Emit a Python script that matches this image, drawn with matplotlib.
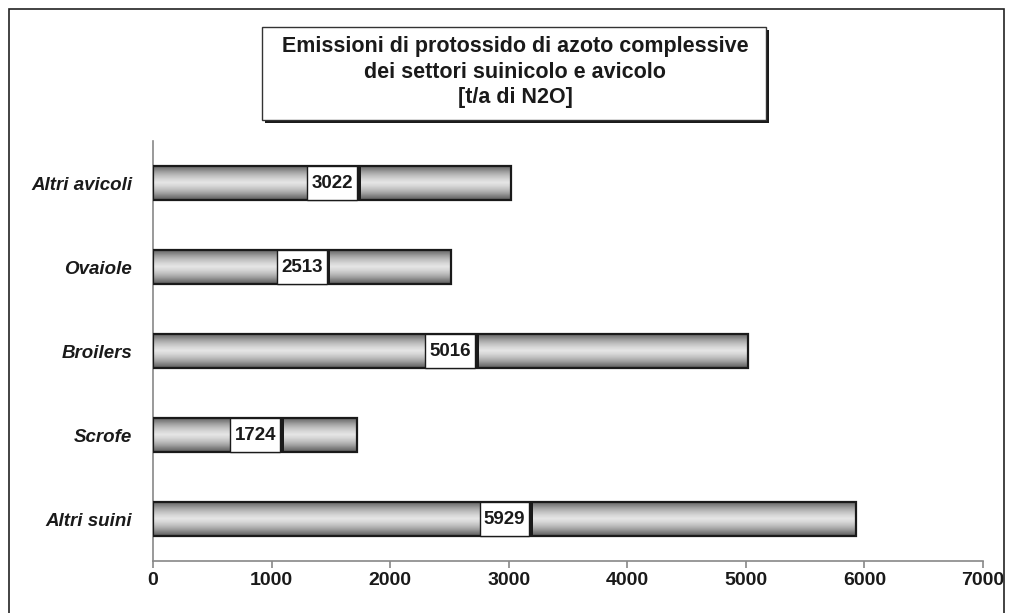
import numpy as np
import matplotlib
matplotlib.use("Agg")
import matplotlib.pyplot as plt
from matplotlib.patches import Rectangle

categories = ["Altri suini", "Scrofe", "Broilers", "Ovaiole", "Altri avicoli"]
values = [5929, 1724, 5016, 2513, 3022]
xticks = [0, 1000, 2000, 3000, 4000, 5000, 6000, 7000]
title = "Emissioni di protossido di azoto complessive\ndei settori suinicolo e avicolo\n[t/a di N2O]"

plt.rcParams['font.family'] = ['Liberation Sans', 'DejaVu Sans']

W, H = 1011, 613
fig = plt.figure(figsize=(W / 100.0, H / 100.0), dpi=100)

def px(x0, y0, w, h):
    # pixel box (top-left origin) -> figure fraction
    return (x0 / W, 1 - (y0 + h) / H, w / W, h / H)

# outer frame of the chart area
fig.patches.append(Rectangle((9 / W, -0.05), (1004 - 9) / W, 1 - 9 / H + 0.05,
                             transform=fig.transFigure, fill=False,
                             edgecolor='#222222', lw=1.2))

ax = fig.add_axes(px(153, 141, 830, 420))

# vertical gradient to mimic the cylinder-like shading
g = np.array([0.35, 0.50, 0.64, 0.75, 0.84, 0.90, 0.84, 0.75, 0.64, 0.50, 0.35])
grad = np.interp(np.linspace(0, len(g) - 1, 60), np.arange(len(g)), g).reshape(-1, 1)

bh = 0.41
for i, v in enumerate(values):
    rect = Rectangle((0, i - bh / 2), v, bh, facecolor='none',
                     edgecolor='#1a1a1a', lw=1.6, zorder=3)
    ax.add_patch(rect)
    im = ax.imshow(grad, cmap='gray', vmin=0, vmax=1, aspect='auto',
                   extent=(0, v, i - bh / 2, i + bh / 2), zorder=2,
                   interpolation='bilinear')
    im.set_clip_path(rect)
    # value label box in the middle of the bar
    bw = 420
    ax.add_patch(Rectangle((v / 2 - bw / 2 + 30, i - bh / 2), bw, bh,
                           facecolor='#1a1a1a', edgecolor='none', zorder=4))
    ax.add_patch(Rectangle((v / 2 - bw / 2, i - bh / 2), bw, bh,
                           facecolor='white', edgecolor='#1a1a1a', lw=1.0, zorder=5))
    ax.text(v / 2, i, str(v), ha='center', va='center', fontsize=13.5,
            fontweight='bold', color='#1a1a1a', zorder=6)

ax.set_aspect('auto')
ax.set_xlim(0, 7000)
ax.set_ylim(-0.5, 4.5)

ax.set_yticks(range(len(categories)))
ax.set_yticklabels(categories, fontsize=13.5, fontweight='bold', style='italic',
                   color='#1a1a1a')
ax.tick_params(axis='y', length=0, pad=15)
ax.set_xticks(xticks)
ax.set_xticklabels([str(t) for t in xticks], fontsize=14, fontweight='bold',
                   color='#1a1a1a')
ax.tick_params(axis='x', length=5, color='#888888', width=1.2, pad=3)

for s in ['top', 'right']:
    ax.spines[s].set_visible(False)
for s in ['left', 'bottom']:
    ax.spines[s].set_color('#888888')
    ax.spines[s].set_linewidth(1.2)

# title box with drop shadow
fig.patches.append(Rectangle(px(265, 30, 504, 93)[:2], 504 / W, 93 / H,
                             transform=fig.transFigure, facecolor='#1a1a1a',
                             edgecolor='none'))
fig.patches.append(Rectangle(px(262, 27, 504, 93)[:2], 504 / W, 93 / H,
                             transform=fig.transFigure, facecolor='white',
                             edgecolor='#333333', lw=1.0))
fig.text(515 / W, 1 - 72 / H, title, ha='center', va='center', fontsize=15.5,
         fontweight='bold', color='#1a1a1a', linespacing=1.3)

fig.savefig("out.png", dpi=100)
